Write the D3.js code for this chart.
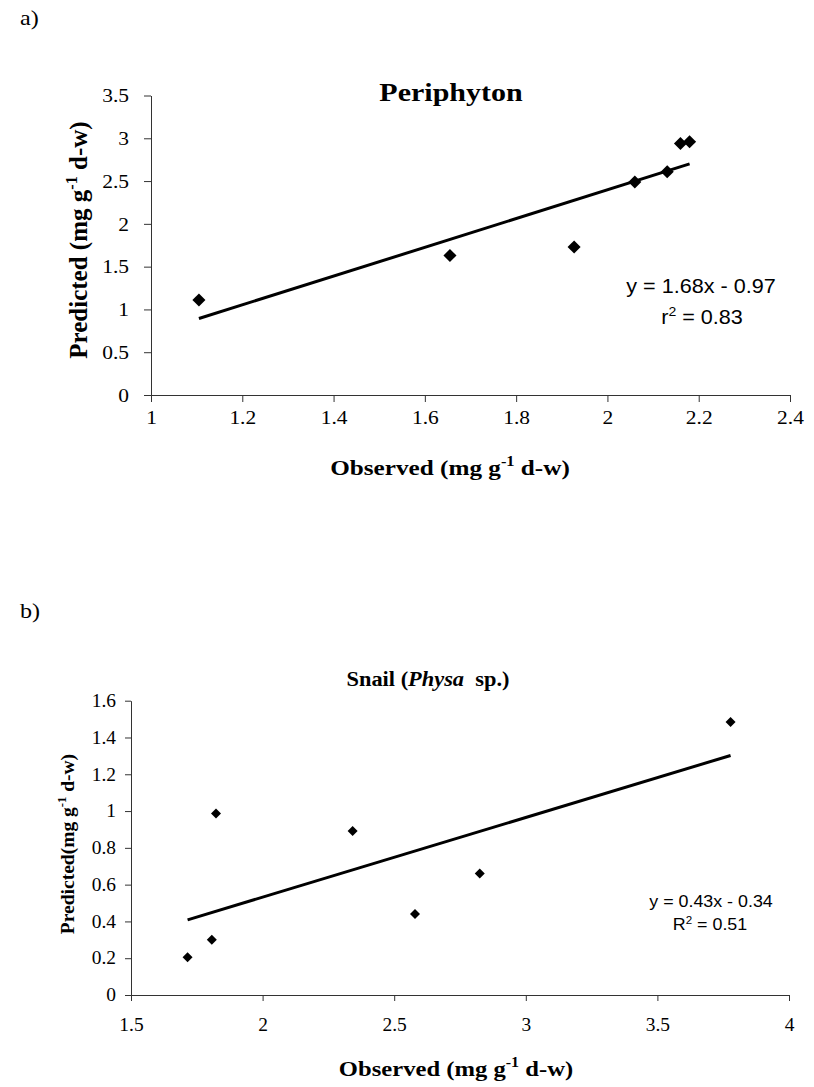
<!DOCTYPE html>
<html>
<head>
<meta charset="utf-8">
<script src="https://cdn.jsdelivr.net/npm/d3@7"></script>
<style>
  body { margin: 0; background: #fff; }
  svg { display: block; background: #fff; }
</style>
</head>
<body>
<svg id="chart" width="814" height="1087"></svg>
<script>
// a) Periphyton
const periObserved  = [1.105, 1.655, 1.927, 2.06, 2.131, 2.16, 2.18];
const periPredicted = [1.11, 1.63, 1.73, 2.49, 2.61, 2.94, 2.96];
const periXTicks = [1, 1.2, 1.4, 1.6, 1.8, 2, 2.2, 2.4];
const periYTicks = [0, 0.5, 1, 1.5, 2, 2.5, 3, 3.5];
const periEquation = "y = 1.68x - 0.97";
const periR2 = ["r", "0.83"];

// b) Snail (Physa sp.)
const snailObserved  = [1.715, 1.807, 1.823, 2.342, 2.579, 2.825, 3.778];
const snailPredicted = [0.205, 0.30, 0.987, 0.891, 0.44, 0.66, 1.484];
const snailXTicks = [1.5, 2, 2.5, 3, 3.5, 4];
const snailYTicks = [0, 0.2, 0.4, 0.6, 0.8, 1, 1.2, 1.4, 1.6];
const snailEquation = "y = 0.43x - 0.34";
const snailR2 = ["R", "0.51"];

const serif = "'Liberation Serif', 'Times New Roman', serif";
const sans = "'Liberation Sans', Arial, sans-serif";

const svg = d3.select("#chart");

// least squares trend line through the points
function fitLine(xs, ys) {
    const mx = d3.mean(xs), my = d3.mean(ys);
    let sxy = 0, sxx = 0;
    xs.forEach((x, i) => {
        sxy += (x - mx) * (ys[i] - my);
        sxx += (x - mx) * (x - mx);
    });
    const slope = sxy / sxx;
    return { slope, intercept: my - slope * mx };
}

// text made of parts, some of them superscript / italic
function richText(g, parts, size) {
    const text = g.append("text").attr("font-size", size);
    let raised = false;
    parts.forEach(p => {
        const t = text.append("tspan").text(p.t);
        if (p.sup) {
            t.attr("font-size", size * 0.65).attr("dy", -size * 0.42);
            raised = true;
        } else if (raised) {
            t.attr("dy", size * 0.42);
            raised = false;
        }
        if (p.italic) t.attr("font-style", "italic");
    });
    return text;
}

function drawPanel(cfg) {
    const g = svg.append("g");
    const x = d3.scaleLinear().domain(cfg.xDomain).range(cfg.xRange);
    const y = d3.scaleLinear().domain(cfg.yDomain).range(cfg.yRange);
    const k = cfg.stretch;

    // panel letter
    g.append("text")
        .attr("font-family", serif)
        .attr("font-size", 21)
        .attr("transform", `translate(${cfg.letterPos[0]},${cfg.letterPos[1]}) scale(1.15,1)`)
        .text(cfg.letter);

    // title
    richText(g, cfg.title, cfg.titleSize)
        .attr("font-family", serif)
        .attr("font-weight", "bold")
        .attr("text-anchor", "middle")
        .attr("transform", `translate(${cfg.titlePos[0]},${cfg.titlePos[1]}) scale(${k},1)`);

    // axes
    const yAxis = g.append("g")
        .attr("transform", `translate(${cfg.xRange[0]},0)`)
        .call(d3.axisLeft(y).tickValues(cfg.yTicks).tickFormat(d => d)
            .tickSize(cfg.tickLen).tickSizeOuter(0));
    const xAxis = g.append("g")
        .attr("transform", `translate(0,${cfg.yRange[0]})`)
        .call(d3.axisBottom(x).tickValues(cfg.xTicks).tickFormat(d => d)
            .tickSize(cfg.tickLen).tickSizeOuter(0));

    [yAxis, xAxis].forEach(a => {
        a.attr("font-family", serif).attr("font-size", cfg.tickSize);
        a.selectAll("path, line").attr("stroke", "#333").attr("stroke-width", 1);
        a.selectAll("text").attr("fill", "#000");
    });
    yAxis.selectAll("text")
        .attr("x", 0)
        .attr("transform", `translate(${-cfg.yLabelGap},0) scale(${cfg.tickStretch},1)`);
    xAxis.selectAll("text")
        .attr("y", 0)
        .attr("transform", `translate(0,${cfg.xLabelGap}) scale(${cfg.tickStretch},1)`);

    // axis titles
    richText(g, cfg.xTitle, cfg.xTitleSize)
        .attr("font-family", serif)
        .attr("font-weight", "bold")
        .attr("text-anchor", "middle")
        .attr("transform", `translate(${cfg.xTitlePos[0]},${cfg.xTitlePos[1]}) scale(${k},1)`);
    richText(g, cfg.yTitle, cfg.yTitleSize)
        .attr("font-family", serif)
        .attr("font-weight", "bold")
        .attr("text-anchor", "middle")
        .attr("transform", `translate(${cfg.yTitlePos[0]},${cfg.yTitlePos[1]}) rotate(-90)`);

    // trend line
    const fit = fitLine(cfg.xs, cfg.ys);
    const [x0, x1] = d3.extent(cfg.xs);
    g.append("line")
        .attr("x1", x(x0)).attr("y1", y(fit.slope * x0 + fit.intercept))
        .attr("x2", x(x1)).attr("y2", y(fit.slope * x1 + fit.intercept))
        .attr("stroke", "#000")
        .attr("stroke-width", 3);

    // diamond markers
    const diamond = d3.symbol().type(d3.symbolSquare).size(cfg.markerSize);
    g.append("g")
        .selectAll("path")
        .data(cfg.xs.map((v, i) => [v, cfg.ys[i]]))
        .join("path")
        .attr("d", diamond)
        .attr("fill", "#000")
        .attr("transform", d => `translate(${x(d[0])},${y(d[1])}) rotate(45)`);

    // regression equation
    const eq = g.append("g")
        .attr("font-family", sans)
        .attr("font-size", cfg.eqSize)
        .attr("text-anchor", "middle");
    eq.append("text")
        .attr("transform", `translate(${cfg.eqPos[0]},${cfg.eqPos[1]}) scale(${cfg.eqStretch},1)`)
        .text(cfg.equation);
    const r2 = eq.append("text")
        .attr("transform", `translate(${cfg.r2Pos[0]},${cfg.r2Pos[1]}) scale(${cfg.eqStretch},1)`);
    r2.append("tspan").text(cfg.r2[0]);
    r2.append("tspan").attr("font-size", cfg.eqSize * 0.65).attr("dy", -cfg.eqSize * 0.38).text("2");
    r2.append("tspan").attr("dy", cfg.eqSize * 0.38).text(" = " + cfg.r2[1]);
}

drawPanel({
    letter: "a)", letterPos: [20, 25], stretch: 1.2,
    title: [{t: "Periphyton"}], titleSize: 25, titlePos: [451, 101],
    xs: periObserved, ys: periPredicted,
    xDomain: [1, 2.4], xRange: [151, 790],
    yDomain: [0, 3.5], yRange: [395, 95.5],
    xTicks: periXTicks, yTicks: periYTicks,
    tickLen: 7, tickSize: 19.5, tickStretch: 1.1, yLabelGap: 22, xLabelGap: 15,
    xTitle: [{t: "Observed (mg g"}, {t: "-1", sup: true}, {t: " d-w)"}],
    xTitleSize: 21, xTitlePos: [450, 475],
    yTitle: [{t: "Predicted (mg g"}, {t: "-1", sup: true}, {t: "  d-w)"}],
    yTitleSize: 25, yTitlePos: [87, 240],
    markerSize: 85,
    equation: periEquation, r2: periR2,
    eqSize: 20, eqStretch: 1.08, eqPos: [701, 293], r2Pos: [702, 324]
});

drawPanel({
    letter: "b)", letterPos: [20, 618], stretch: 1.12,
    title: [{t: "Snail ("}, {t: "Physa", italic: true}, {t: "\u00a0 sp.)"}], titleSize: 20, titlePos: [428, 686],
    xs: snailObserved, ys: snailPredicted,
    xDomain: [1.5, 4], xRange: [131, 789],
    yDomain: [0, 1.6], yRange: [995, 700.7],
    xTicks: snailXTicks, yTicks: snailYTicks,
    tickLen: 6, tickSize: 18, tickStretch: 1.08, yLabelGap: 15, xLabelGap: 23,
    xTitle: [{t: "Observed (mg g"}, {t: "-1", sup: true}, {t: " d-w)"}],
    xTitleSize: 22, xTitlePos: [456, 1076],
    yTitle: [{t: "Predicted(mg g"}, {t: "-1", sup: true}, {t: "  d-w)"}],
    yTitleSize: 19.5, yTitlePos: [74, 844],
    markerSize: 50,
    equation: snailEquation, r2: snailR2,
    eqSize: 17, eqStretch: 1.05, eqPos: [711, 907], r2Pos: [710, 930]
});
</script>
</body>
</html>
